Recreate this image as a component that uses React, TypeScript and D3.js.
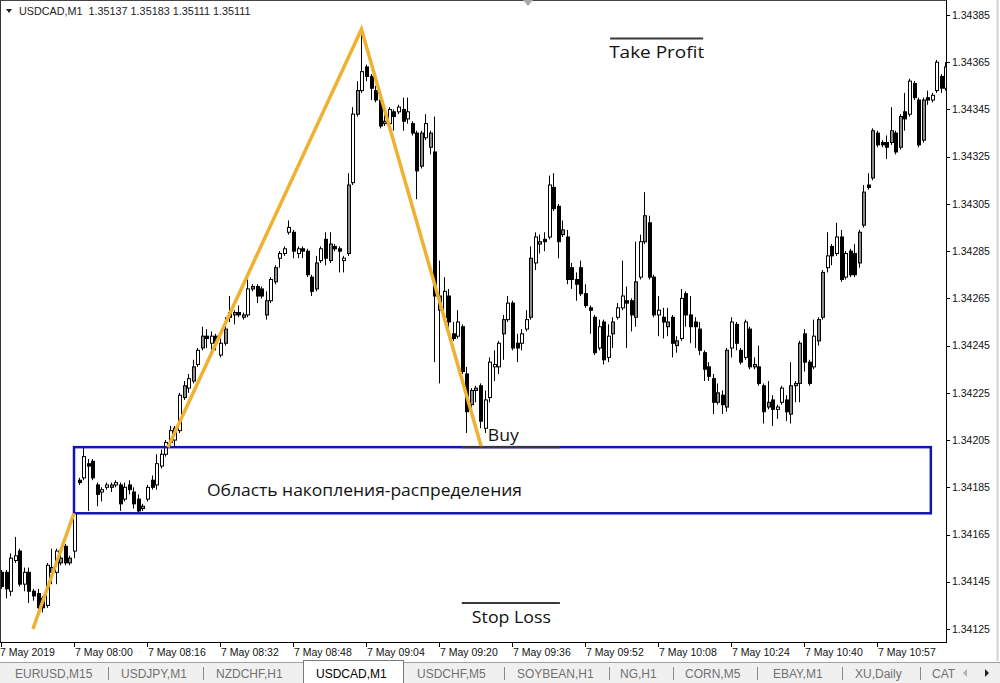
import React from 'react';
import * as d3 from 'd3';

const W = 1000;
const H = 683;
const PLOT_RIGHT = 946;
const PLOT_BOTTOM = 642;

const headerText = 'USDCAD,M1  1.35137 1.35183 1.35111 1.35111';

// OHLC of USDCAD M1 bars (07:44 .. ~11:12)
const opens = [
  1.34149,1.34149,1.34141,1.34154,1.34158,1.34144,1.34149,1.34141,1.34140,1.34138,
  1.34135,1.34149,1.34149,1.34153,1.34160,1.34153,1.34158,1.34188,1.34189,1.34195,
  1.34196,1.34186,1.34183,1.34185,1.34185,1.34186,1.34186,1.34180,1.34186,1.34183,
  1.34180,1.34176,1.34180,1.34188,1.34186,1.34194,1.34199,1.34204,1.34205,1.34209,
  1.34223,1.34227,1.34230,1.34237,1.34244,1.34249,1.34246,1.34249,1.34241,1.34246,
  1.34259,1.34258,1.34259,1.34257,1.34258,1.34269,1.34270,1.34269,1.34258,1.34264,
  1.34272,1.34282,1.34284,1.34293,1.34293,1.34284,1.34286,1.34285,1.34274,1.34269,
  1.34281,1.34290,1.34281,1.34287,1.34286,1.34281,1.34284,1.34314,1.34343,1.34353,
  1.34363,1.34359,1.34353,1.34349,1.34339,1.34339,1.34344,1.34344,1.34345,1.34341,
  1.34339,1.34335,1.34321,1.34333,1.34329,1.34327,1.34260,1.34257,1.34266,1.34250,
  1.34249,1.34253,1.34233,1.34220,1.34226,1.34228,1.34210,1.34223,1.34236,1.34236,
  1.34250,1.34256,1.34263,1.34246,1.34246,1.34252,1.34257,1.34280,1.34288,1.34290,
  1.34291,1.34312,1.34304,1.34292,1.34291,1.34278,1.34273,1.34278,1.34267,1.34261,
  1.34257,1.34244,1.34255,1.34240,1.34250,1.34257,1.34261,1.34264,1.34264,1.34257,
  1.34274,1.34289,1.34297,1.34274,1.34258,1.34257,1.34253,1.34257,1.34245,1.34248,
  1.34267,1.34258,1.34255,1.34252,1.34242,1.34236,1.34231,1.34221,1.34224,1.34219,
  1.34244,1.34254,1.34243,1.34240,1.34252,1.34236,1.34236,1.34228,1.34219,1.34222,
  1.34218,1.34221,1.34222,1.34216,1.34228,1.34229,1.34250,1.34238,1.34236,1.34247,
  1.34257,1.34278,1.34287,1.34284,1.34291,1.34274,1.34285,1.34284,1.34280,1.34296,
  1.34313,1.34316,1.34335,1.34331,1.34331,1.34331,1.34335,1.34329,1.34344,1.34343,
  1.34356,1.34349,1.34332,1.34350,1.34349,1.34353,1.34359,1.34354,
];
const highs = [
  1.34150,1.34150,1.34157,1.34164,1.34159,1.34151,1.34151,1.34142,1.34142,1.34139,
  1.34153,1.34159,1.34159,1.34158,1.34161,1.34156,1.34175,1.34189,1.34202,1.34197,
  1.34197,1.34187,1.34185,1.34187,1.34187,1.34188,1.34187,1.34187,1.34188,1.34185,
  1.34182,1.34178,1.34186,1.34190,1.34199,1.34201,1.34205,1.34211,1.34211,1.34225,
  1.34230,1.34233,1.34239,1.34244,1.34253,1.34252,1.34251,1.34250,1.34248,1.34257,
  1.34266,1.34260,1.34262,1.34259,1.34273,1.34271,1.34271,1.34270,1.34268,1.34274,
  1.34279,1.34285,1.34287,1.34298,1.34294,1.34287,1.34287,1.34286,1.34275,1.34283,
  1.34287,1.34293,1.34293,1.34288,1.34287,1.34283,1.34318,1.34346,1.34357,1.34379,
  1.34364,1.34360,1.34355,1.34350,1.34345,1.34346,1.34345,1.34347,1.34350,1.34350,
  1.34340,1.34336,1.34336,1.34343,1.34336,1.34342,1.34281,1.34274,1.34269,1.34255,
  1.34260,1.34254,1.34236,1.34227,1.34228,1.34229,1.34226,1.34240,1.34243,1.34247,
  1.34258,1.34266,1.34264,1.34250,1.34252,1.34260,1.34287,1.34293,1.34292,1.34293,
  1.34317,1.34318,1.34305,1.34298,1.34294,1.34280,1.34276,1.34281,1.34271,1.34262,
  1.34258,1.34256,1.34256,1.34254,1.34257,1.34263,1.34281,1.34270,1.34265,1.34289,
  1.34292,1.34310,1.34300,1.34275,1.34266,1.34261,1.34261,1.34258,1.34249,1.34269,
  1.34268,1.34266,1.34257,1.34255,1.34243,1.34238,1.34233,1.34229,1.34226,1.34244,
  1.34257,1.34255,1.34244,1.34256,1.34253,1.34240,1.34245,1.34229,1.34230,1.34224,
  1.34220,1.34228,1.34224,1.34238,1.34230,1.34247,1.34252,1.34239,1.34256,1.34257,
  1.34277,1.34293,1.34288,1.34297,1.34294,1.34285,1.34286,1.34288,1.34294,1.34313,
  1.34318,1.34337,1.34336,1.34332,1.34334,1.34346,1.34336,1.34343,1.34352,1.34358,
  1.34357,1.34350,1.34350,1.34353,1.34352,1.34366,1.34360,1.34365,
];
const lows = [
  1.34142,1.34138,1.34139,1.34153,1.34143,1.34141,1.34136,1.34137,1.34132,1.34132,
  1.34134,1.34144,1.34144,1.34152,1.34152,1.34152,1.34155,1.34186,1.34188,1.34175,
  1.34188,1.34177,1.34179,1.34184,1.34183,1.34185,1.34175,1.34179,1.34182,1.34176,
  1.34174,1.34175,1.34179,1.34184,1.34184,1.34193,1.34198,1.34202,1.34202,1.34208,
  1.34222,1.34225,1.34229,1.34236,1.34243,1.34244,1.34242,1.34243,1.34240,1.34245,
  1.34255,1.34254,1.34257,1.34256,1.34257,1.34268,1.34263,1.34265,1.34256,1.34263,
  1.34271,1.34278,1.34283,1.34292,1.34282,1.34282,1.34282,1.34274,1.34266,1.34268,
  1.34280,1.34279,1.34280,1.34285,1.34276,1.34276,1.34283,1.34313,1.34342,1.34352,
  1.34357,1.34349,1.34348,1.34337,1.34338,1.34338,1.34336,1.34343,1.34336,1.34339,
  1.34334,1.34307,1.34320,1.34332,1.34326,1.34238,1.34229,1.34255,1.34251,1.34247,
  1.34248,1.34233,1.34208,1.34216,1.34221,1.34210,1.34208,1.34221,1.34230,1.34233,
  1.34239,1.34255,1.34243,1.34238,1.34243,1.34251,1.34256,1.34277,1.34284,1.34285,
  1.34290,1.34302,1.34282,1.34291,1.34271,1.34269,1.34264,1.34266,1.34261,1.34250,
  1.34241,1.34243,1.34237,1.34238,1.34244,1.34256,1.34260,1.34244,1.34251,1.34253,
  1.34273,1.34288,1.34273,1.34257,1.34249,1.34248,1.34249,1.34240,1.34242,1.34247,
  1.34253,1.34246,1.34244,1.34241,1.34230,1.34230,1.34216,1.34220,1.34216,1.34217,
  1.34240,1.34243,1.34237,1.34239,1.34235,1.34235,1.34228,1.34212,1.34218,1.34211,
  1.34214,1.34220,1.34213,1.34212,1.34221,1.34221,1.34234,1.34228,1.34235,1.34245,
  1.34256,1.34276,1.34279,1.34283,1.34272,1.34273,1.34274,1.34274,1.34278,1.34295,
  1.34311,1.34315,1.34329,1.34329,1.34324,1.34330,1.34326,1.34328,1.34336,1.34342,
  1.34349,1.34329,1.34331,1.34347,1.34348,1.34352,1.34352,1.34353,
];
const closes = [
  1.34143,1.34142,1.34155,1.34156,1.34144,1.34149,1.34141,1.34139,1.34134,1.34134,
  1.34152,1.34151,1.34158,1.34155,1.34153,1.34155,1.34174,1.34187,1.34198,1.34194,
  1.34189,1.34182,1.34184,1.34186,1.34186,1.34187,1.34178,1.34185,1.34184,1.34178,
  1.34175,1.34177,1.34185,1.34185,1.34195,1.34199,1.34204,1.34209,1.34210,1.34224,
  1.34228,1.34231,1.34236,1.34243,1.34249,1.34248,1.34249,1.34246,1.34246,1.34252,
  1.34257,1.34259,1.34258,1.34258,1.34269,1.34270,1.34266,1.34266,1.34264,1.34273,
  1.34278,1.34284,1.34286,1.34295,1.34285,1.34286,1.34285,1.34275,1.34268,1.34280,
  1.34286,1.34282,1.34288,1.34286,1.34285,1.34282,1.34313,1.34343,1.34353,1.34361,
  1.34359,1.34354,1.34349,1.34338,1.34340,1.34345,1.34342,1.34346,1.34340,1.34344,
  1.34335,1.34319,1.34335,1.34339,1.34335,1.34266,1.34266,1.34268,1.34255,1.34248,
  1.34255,1.34234,1.34217,1.34226,1.34227,1.34213,1.34222,1.34238,1.34237,1.34246,
  1.34256,1.34263,1.34244,1.34244,1.34250,1.34256,1.34282,1.34291,1.34289,1.34289,
  1.34313,1.34303,1.34289,1.34294,1.34273,1.34273,1.34271,1.34267,1.34262,1.34260,
  1.34242,1.34253,1.34239,1.34249,1.34255,1.34261,1.34266,1.34263,1.34258,1.34272,
  1.34289,1.34300,1.34274,1.34258,1.34260,1.34255,1.34255,1.34246,1.34247,1.34265,
  1.34258,1.34253,1.34253,1.34243,1.34235,1.34232,1.34221,1.34225,1.34220,1.34243,
  1.34255,1.34246,1.34238,1.34255,1.34236,1.34237,1.34229,1.34217,1.34221,1.34218,
  1.34219,1.34227,1.34217,1.34228,1.34229,1.34246,1.34238,1.34229,1.34249,1.34256,
  1.34276,1.34283,1.34283,1.34291,1.34273,1.34284,1.34275,1.34275,1.34293,1.34310,
  1.34312,1.34336,1.34330,1.34330,1.34329,1.34336,1.34327,1.34342,1.34341,1.34357,
  1.34350,1.34330,1.34349,1.34349,1.34351,1.34365,1.34354,1.34363,
];
// body style per bar: b = black, w = white, g = gray
const bodyKinds = (
  'bbwwbwbbbb' + 'wgwgbgwbwb' + 'bbwwgwbwbb' + 'bgwbwwwwww' + 'gwgwgbwbwg' +
  'bgbgwgbbgw' + 'gwwwbwbbbg' + 'wbgbbwgwgw' + 'bbbbgwbwbw' + 'bbgwgbgwbb' +
  'wbbggbwwww' + 'gwbbwwgwgb' + 'wbbgbbbbbb' + 'bwbwgwwbbg' + 'wgbbwbgbgw' +
  'bbbbbbbgbg' + 'wbbwbgbbgb' + 'wwbgggbbwg' + 'gwbwbwbbgg' + 'bgbbbgbgbw' +
  'bbgbwwbw'
).split('');

const timeTickIndex = [0, 16, 32, 48, 64, 80, 96, 112, 128, 144, 160, 176, 192];
const timeTickLabels = [
  '7 May 2019', '7 May 08:00', '7 May 08:16', '7 May 08:32', '7 May 08:48',
  '7 May 09:04', '7 May 09:20', '7 May 09:36', '7 May 09:52', '7 May 10:08',
  '7 May 10:24', '7 May 10:40', '7 May 10:57',
];
const priceTicks = [
  1.34125, 1.34145, 1.34165, 1.34185, 1.34205, 1.34225, 1.34245,
  1.34265, 1.34285, 1.34305, 1.34325, 1.34345, 1.34365, 1.34385,
];

// hand-drawn zigzag (drawn in pieces, interrupted by the zone)
const zigzagSegments = [
  { index: [7, 16], price: [1.34125, 1.34174] },
  { index: [36.6, 79, 105.3], price: [1.34202, 1.34379, 1.34202] },
];

// accumulation / distribution zone
const zoneIndex = [16, 203.8];
const zonePrice = [1.34202, 1.34174];

// annotation levels
const levelLines = [
  { i0: 133.5, i1: 153.9, price: 1.34375 },
  { i0: 101, i1: 122.5, price: 1.34202 },
  { i0: 101, i1: 122.5, price: 1.34136 },
];
const labels = [
  { text: 'Take Profit', i: 133.3, price: 1.343668, len: 95 },
  { text: 'Buy', i: 106.7, price: 1.342046, len: 31 },
  { text: 'Stop Loss', i: 103.2, price: 1.341275, len: 79 },
  { text: 'Область накопления-распределения', i: 45.15, price: 1.341813, len: 315 },
];

const tabNames = ['EURUSD,M15', 'USDJPY,M1', 'NZDCHF,H1', 'USDCAD,M1', 'USDCHF,M5', 'SOYBEAN,H1', 'NG,H1', 'CORN,M5', 'EBAY,M1', 'XU,Daily', 'CAT'];
const tabTextX = [15, 121, 216, 316, 417, 517, 620, 685, 773, 855, 932];
const tabSeparators = [108, 203, 504, 609, 673, 757, 842, 920];
const activeTab = 3;

const axisFont = '"Liberation Sans", Arial, sans-serif';
const noteFont = '"Open Sans", "DejaVu Sans", sans-serif';

export default function App() {
  const x = d3.scaleLinear().domain([0, 192]).range([1, 877]);
  const y = d3.scaleLinear().domain([1.34125, 1.34385]).range([629, 15]);

  const segPath = (s: { index: number[]; price: number[] }) =>
    d3.line<number>()
      .x((_, k) => x(s.index[k]))
      .y((d) => y(d))(s.price) || '';

  return (
    <svg width={W} height={H} style={{ position: 'absolute', left: 0, top: 0, background: '#fff' }}>
      <defs>
        <clipPath id="plotClip">
          <rect x={1} y={1} width={PLOT_RIGHT - 1} height={PLOT_BOTTOM - 1} />
        </clipPath>
      </defs>
      <rect x={0} y={0} width={W} height={H} fill="#fff" />

      {/* frame */}
      <line x1={0.5} y1={0} x2={0.5} y2={PLOT_BOTTOM} stroke="#333" />
      <line x1={0} y1={0.5} x2={PLOT_RIGHT} y2={0.5} stroke="#444" />
      <line x1={PLOT_RIGHT + 0.5} y1={0} x2={PLOT_RIGHT + 0.5} y2={PLOT_BOTTOM + 1} stroke="#000" />
      <line x1={0} y1={PLOT_BOTTOM + 0.5} x2={PLOT_RIGHT + 1} y2={PLOT_BOTTOM + 0.5} stroke="#000" />
      <line x1={997.5} y1={0} x2={997.5} y2={661} stroke="#d4d4d4" strokeWidth={2} />

      {/* chart shift marker */}
      <path d="M523,0 L533,0 L528,6 Z" fill="#a8a8a8" />

      {/* header */}
      <path d="M6,9 L12,9 L9,13 Z" fill="#222" />
      <text x={19} y={15} fontFamily={axisFont} fontSize={10.8} fill="#222" style={{ whiteSpace: 'pre' }}>
        {headerText}
      </text>

      {/* candles */}
      <g clipPath="url(#plotClip)">
        {opens.map((o, i) => {
          const c = closes[i];
          const cx = Math.round(x(i));
          const top = y(Math.max(o, c));
          const bot = y(Math.min(o, c));
          const kind = bodyKinds[i];
          const fill = kind === 'b' ? '#000' : kind === 'g' ? '#8a8a8a' : '#fff';
          return (
            <g key={i}>
              <line x1={cx + 0.5} x2={cx + 0.5} y1={y(highs[i])} y2={y(lows[i])} stroke="#000" strokeWidth={1} />
              <rect x={cx - 0.5} y={top} width={3} height={Math.max(bot - top, 1)} fill={fill} stroke="#000" strokeWidth={1} />
            </g>
          );
        })}
      </g>

      {/* zone rectangle */}
      <rect
        x={x(zoneIndex[0])}
        y={y(zonePrice[0])}
        width={x(zoneIndex[1]) - x(zoneIndex[0])}
        height={y(zonePrice[1]) - y(zonePrice[0])}
        fill="none"
        stroke="#1414b4"
        strokeWidth={2.5}
      />

      {/* zigzag */}
      {zigzagSegments.map((s, k) => (
        <path key={k} d={segPath(s)} fill="none" stroke="#f0b030" strokeWidth={3.5} strokeLinejoin="miter" clipPath="url(#plotClip)" />
      ))}

      {/* level lines */}
      {levelLines.map((l, k) => (
        <line key={k} x1={x(l.i0)} x2={x(l.i1)} y1={y(l.price)} y2={y(l.price)} stroke="#3a3a3a" strokeWidth={2} />
      ))}

      {/* notes */}
      {labels.map((l, k) => (
        <text
          key={k}
          x={x(l.i)}
          y={y(l.price)}
          fontFamily={noteFont}
          fontSize={17}
          fill="#111"
          textLength={l.len}
          lengthAdjust="spacingAndGlyphs"
        >
          {l.text}
        </text>
      ))}

      {/* price axis */}
      {priceTicks.map((p) => (
        <g key={p}>
          <line x1={PLOT_RIGHT + 1} x2={PLOT_RIGHT + 4} y1={Math.round(y(p)) + 0.5} y2={Math.round(y(p)) + 0.5} stroke="#000" />
          <text x={952} y={y(p)} dy="0.35em" fontFamily={axisFont} fontSize={10.5} fill="#111">
            {d3.format('.5f')(p)}
          </text>
        </g>
      ))}

      {/* time axis */}
      {timeTickIndex.map((ti, k) => (
        <g key={ti}>
          <line x1={Math.round(x(ti)) + 0.5} x2={Math.round(x(ti)) + 0.5} y1={PLOT_BOTTOM + 1} y2={PLOT_BOTTOM + 5} stroke="#000" />
          <text x={x(ti) + (k === 0 ? -1 : 1)} y={656} fontFamily={axisFont} fontSize={10.5} fill="#111">
            {timeTickLabels[k]}
          </text>
        </g>
      ))}

      {/* tab bar */}
      <rect x={0} y={662} width={W} height={21} fill="#f0f0f0" />
      <line x1={0} x2={W} y1={662.5} y2={662.5} stroke="#a0a0a0" />
      <rect x={303.5} y={660.5} width={100} height={23} fill="#fff" stroke="#7a7a7a" />
      {tabSeparators.map((sx) => (
        <line key={sx} x1={sx + 0.5} x2={sx + 0.5} y1={667} y2={680} stroke="#8a8a8a" />
      ))}
      {tabNames.map((t, k) => (
        <text key={t} x={tabTextX[k]} y={678} fontFamily={axisFont} fontSize={12} fill={k === activeTab ? '#000' : '#707070'}>
          {t}
        </text>
      ))}
      <path d="M967,669 L967,677 L963,673 Z" fill="#b0b0b0" />
      <path d="M985,669 L985,677 L989,673 Z" fill="#222" />
    </svg>
  );
}
